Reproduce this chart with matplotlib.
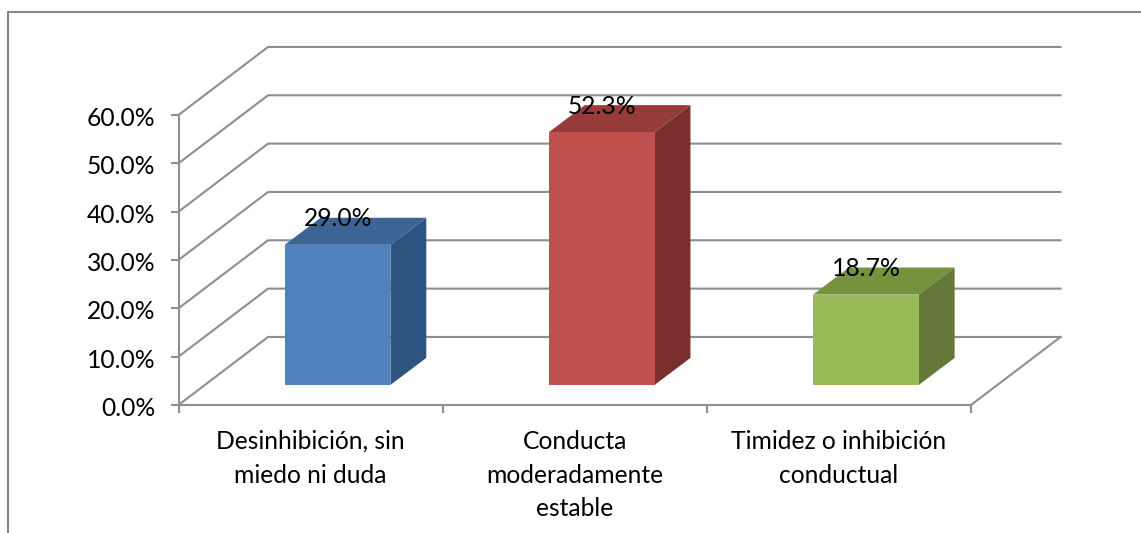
import matplotlib.pyplot as plt
import numpy as np
from matplotlib.patches import Polygon, Rectangle
from matplotlib.transforms import ScaledTranslation

# data
categories = ['Desinhibición, sin\nmiedo ni duda', 'Conducta\nmoderadamente\nestable', 'Timidez o inhibición\nconductual']
values = [29.0, 52.3, 18.7]
y_ticks = [0, 10, 20, 30, 40, 50, 60]

front_colors = ['#4F81BD', '#C0504D', '#9BBB59']
top_colors = ['#3C6595', '#953B39', '#76923C']
side_colors = ['#2F5480', '#7A2F2E', '#65783A']
line_color = '#8E8E8E'

plt.rcParams['font.family'] = ['Lato', 'DejaVu Sans']
W, H = 1141, 533
fig = plt.figure(figsize=(W / 100, H / 100), dpi=100)

# axes covers the front plane of the fake 3D box
ax = fig.add_axes([178.5 / W, (H - 405) / H, (971 - 178.5) / W, 290 / H])
ax.set_xlim(0, 3)
ax.set_ylim(0, 60)
ax.patch.set_visible(False)

# depth of the box and of the bars, in data units
box_dx, box_dy = 0.339, 14.08
gap_dx, gap_dy = 0.102, 4.14
bar_dx, bar_dy = 0.136, 5.6
bar_w = 0.4
lw = 1.5
fs = 17.7

for y in y_ticks:
    ax.plot([0, box_dx, 3 + box_dx], [y, y + box_dy, y + box_dy], color=line_color, lw=lw, clip_on=False, zorder=1)
ax.plot([3, 3 + box_dx], [0, box_dy], color=line_color, lw=lw, clip_on=False, zorder=1)

# bars
for i, v in enumerate(values):
    x0 = i + 0.5 - bar_w / 2 + gap_dx
    x1 = x0 + bar_w
    y0 = gap_dy
    y1 = gap_dy + v
    ax.add_patch(Polygon([(x0, y1), (x1, y1), (x1 + bar_dx, y1 + bar_dy), (x0 + bar_dx, y1 + bar_dy)],
                         facecolor=top_colors[i], edgecolor='none', clip_on=False, zorder=3))
    ax.add_patch(Polygon([(x1, y0), (x1 + bar_dx, y0 + bar_dy), (x1 + bar_dx, y1 + bar_dy), (x1, y1)],
                         facecolor=side_colors[i], edgecolor='none', clip_on=False, zorder=3))
    ax.add_patch(Rectangle((x0, y0), bar_w, v, facecolor=front_colors[i], edgecolor='none', clip_on=False, zorder=3))
    ax.annotate(f'{v:.1f}%', (x0 + bar_w / 2, y1), xytext=(0.5, 26 * 0.72), textcoords='offset points',
                ha='center', va='center', fontsize=fs, color='black', zorder=4, annotation_clip=False)

# axes
for s in ['top', 'right']:
    ax.spines[s].set_visible(False)
for s in ['left', 'bottom']:
    ax.spines[s].set_color(line_color)
    ax.spines[s].set_linewidth(lw)
ax.set_yticks(y_ticks)
ax.set_yticklabels([f'{y:.1f}%' for y in y_ticks], va='center_baseline')
ax.set_xticks([0, 1, 2, 3])
ax.set_xticklabels([])
ax.set_xticks([0.5, 1.5, 2.5], minor=True)
ax.set_xticklabels(categories, minor=True, linespacing=1.56, va='top')
ax.tick_params(axis='y', length=5.8, width=lw, color=line_color, labelsize=fs, pad=11)
ax.tick_params(axis='x', which='major', length=5.8, width=lw, color=line_color)
ax.tick_params(axis='x', which='minor', length=0, labelsize=fs, pad=18)

# y labels sit about 2 px lower than the ticks
shift = ScaledTranslation(0, -1.5 / 100, fig.dpi_scale_trans)
for lab in ax.get_yticklabels():
    lab.set_transform(lab.get_transform() + shift)

# chart area border, cropped on the right and bottom
fig.add_artist(plt.Line2D([7.5 / W, 7.5 / W, 1], [0, 1 - 11.5 / H, 1 - 11.5 / H], color='#868686', lw=lw))

plt.savefig('out.png', dpi=100)
